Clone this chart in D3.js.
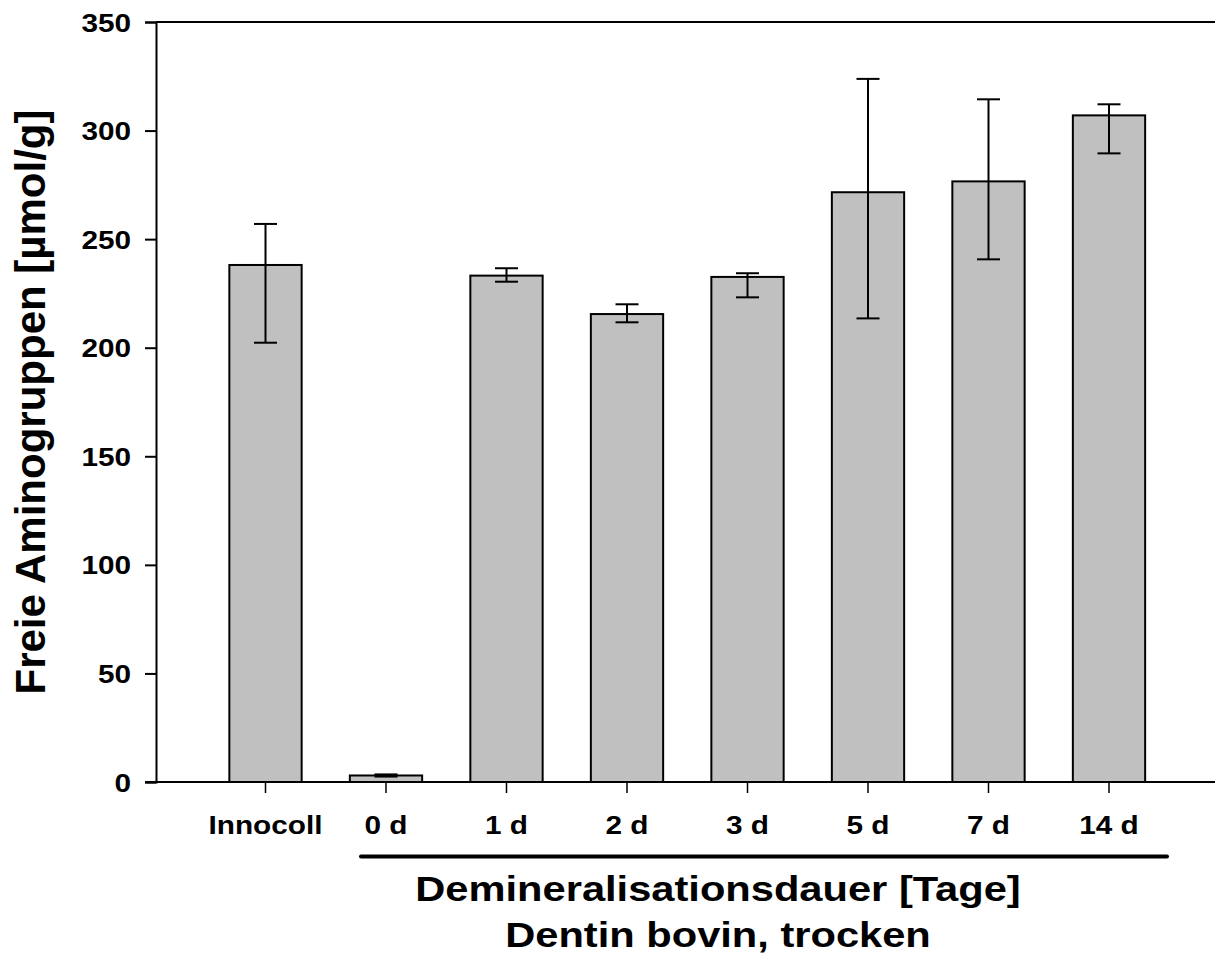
<!DOCTYPE html>
<html>
<head>
<meta charset="utf-8">
<script src="https://cdn.jsdelivr.net/npm/d3@7"></script>
<style>
  body { margin: 0; background: #fff; }
  svg { display: block; }
  text { font-family: "Liberation Sans", Arial, sans-serif; font-weight: bold; fill: #000; }
</style>
</head>
<body>
<div id="chart"></div>
<script>
// data
var categories = ["Innocoll", "0 d", "1 d", "2 d", "3 d", "5 d", "7 d", "14 d"];
var means      = [238.1, 3.0, 233.2, 215.5, 232.6, 271.6, 276.6, 307.0];
var errUpper   = [257.0, 3.5, 236.6, 220.0, 234.3, 323.8, 314.4, 312.1];
var errLower   = [202.3, 2.5, 230.4, 211.7, 223.2, 213.5, 240.7, 289.5];
var yTicks     = [0, 50, 100, 150, 200, 250, 300, 350];

var width = 1215, height = 956;
var stretch = 1.19;   // horizontal labels look wider than plain Arial

var svg = d3.select("#chart")
  .append("svg")
    .attr("width", width)
    .attr("height", height);

var x = d3.scaleBand()
  .domain(categories)
  .range([205.25, 1169.25])
  .paddingInner(0.4)
  .paddingOuter(0.2);

var y = d3.scaleLinear()
  .domain([0, 350])
  .range([782, 22]);

var rows = categories.map(function(c, i){
  return {name: c, mean: means[i], hi: errUpper[i], lo: errLower[i]};
});

// frame: top and bottom lines run to the right edge
svg.append("line")
  .attr("x1", 156).attr("x2", width)
  .attr("y1", y(350)).attr("y2", y(350))
  .attr("stroke", "#000").attr("stroke-width", 2);

// bars
svg.selectAll("rect.bar")
  .data(rows)
  .enter()
  .append("rect")
    .attr("class", "bar")
    .attr("x", function(d){ return x(d.name); })
    .attr("y", function(d){ return y(d.mean); })
    .attr("width", x.bandwidth())
    .attr("height", function(d){ return y(0) - y(d.mean); })
    .attr("fill", "#c0c0c0")
    .attr("stroke", "#000")
    .attr("stroke-width", 2);

// error bars
var eb = svg.selectAll("g.err")
  .data(rows)
  .enter()
  .append("g")
    .attr("class", "err")
    .attr("transform", function(d){ return "translate(" + (x(d.name) + x.bandwidth() / 2) + ",0)"; })
    .attr("stroke", "#000")
    .attr("stroke-width", 2);

eb.append("line")
  .attr("x1", 0).attr("x2", 0)
  .attr("y1", function(d){ return y(d.hi); })
  .attr("y2", function(d){ return y(d.lo); });
eb.append("line")
  .attr("x1", -11.5).attr("x2", 11.5)
  .attr("y1", function(d){ return y(d.hi); })
  .attr("y2", function(d){ return y(d.hi); });
eb.append("line")
  .attr("x1", -11.5).attr("x2", 11.5)
  .attr("y1", function(d){ return y(d.lo); })
  .attr("y2", function(d){ return y(d.lo); });

// y axis
var yAxis = svg.append("g")
  .attr("transform", "translate(156,0)")
  .call(d3.axisLeft(y).tickValues(yTicks).tickSize(11).tickPadding(14).tickFormat(d3.format("d")));
yAxis.select(".domain").attr("stroke-width", 2);
yAxis.selectAll(".tick line").attr("stroke-width", 2);
yAxis.selectAll(".tick text")
  .attr("font-size", 25)
  .attr("x", -25 / stretch)
  .attr("dy", "0.36em")
  .attr("transform", "scale(" + stretch + ",1)");

// x axis
var xAxis = svg.append("g")
  .attr("transform", "translate(0,782)")
  .call(d3.axisBottom(x).tickSize(11).tickPadding(0));
xAxis.select(".domain")
  .attr("d", "M145,0H" + width)
  .attr("stroke-width", 2);
xAxis.selectAll(".tick line").attr("stroke-width", 1.5);
xAxis.selectAll(".tick text")
  .attr("font-size", 25)
  .attr("y", 52.3)
  .attr("dy", 0)
  .attr("transform", "scale(" + stretch + ",1)");

// bracket under the durations
svg.append("line")
  .attr("x1", 361).attr("x2", 1167)
  .attr("y1", 856.5).attr("y2", 856.5)
  .attr("stroke", "#000")
  .attr("stroke-width", 4)
  .attr("stroke-linecap", "round");

// x titles
svg.append("text")
  .attr("transform", "translate(718,900.5) scale(" + stretch + ",1)")
  .attr("text-anchor", "middle")
  .attr("font-size", 35)
  .text("Demineralisationsdauer [Tage]");

svg.append("text")
  .attr("transform", "translate(718,946.5) scale(" + stretch + ",1)")
  .attr("text-anchor", "middle")
  .attr("font-size", 35)
  .text("Dentin bovin, trocken");

// y title
svg.append("text")
  .attr("transform", "translate(45,402) rotate(-90)")
  .attr("text-anchor", "middle")
  .attr("font-size", 42)
  .text("Freie Aminogruppen [µmol/g]");
</script>
</body>
</html>
